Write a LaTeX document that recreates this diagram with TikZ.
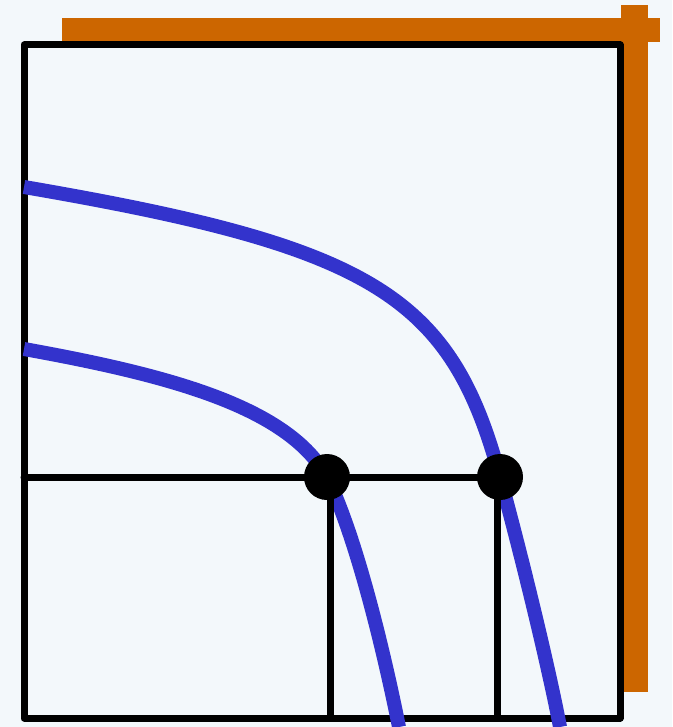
\documentclass[tikz,border=0pt]{standalone}
\usepackage{xcolor}
\usepackage{tikz}

\definecolor{paper}{HTML}{F3F8FB}
\definecolor{bar}{HTML}{CC6600}
\definecolor{curve}{HTML}{3333CC}

\begin{document}
\begin{tikzpicture}[x=1pt, y=-1pt,
    frame/.style={black, line width=7pt, line cap=round, line join=round},
    blob/.style={circle, fill=black, inner sep=0pt, minimum size=46pt},
    iso/.style={curve, line width=14pt}]
    % background
    \fill[paper] (0, 0) rectangle (672, 727);
    \useasboundingbox (0, 0) rectangle (672, 727);
    % orange bars
    \fill[bar] (62, 18) rectangle (660, 42);
    \fill[bar] (621, 5) rectangle (648, 692);
    % box
    \coordinate (tl) at (24, 45); \coordinate (tr) at (620, 45);
    \coordinate (bl) at (24, 718); \coordinate (br) at (620, 718);
    \draw[frame] (tl) -- (tr) -- (br) -- (bl) -- cycle;
    % curves
    \coordinate (c1) at (327, 477); \coordinate (c2) at (500, 477);
    \draw[iso] (24, 187) .. controls (374, 247) and (451, 296) .. (c2)
        .. controls (521.6, 556) and (548.6, 667) .. (560, 727);
    \draw[iso] (24, 349) .. controls (174, 376) and (288.5, 408) .. (c1)
        .. controls (357, 538) and (385, 657) .. (399, 727);
    % points
    \node[blob] at (c1) (p1) {};
    \node[blob] at (c2) (p2) {};
    % guide lines
    \coordinate (l) at (24, 477);
    \coordinate (b1) at (330, 718); \coordinate (b2) at (497, 718);
    \draw[frame] (l) -- (p1.center) -- (p2.center);
    \draw[frame] (p1.center) ++(3, 0) coordinate (p1d) -- (b1);
    \draw[frame] (p2.center) ++(-3, 0) coordinate (p2d) -- (b2);
\end{tikzpicture}
\end{document}
